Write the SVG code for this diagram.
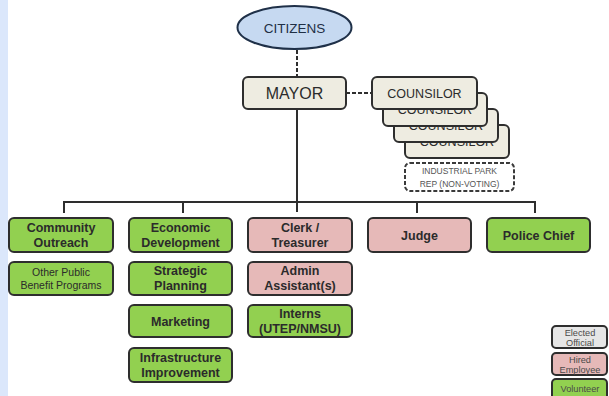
<svg xmlns="http://www.w3.org/2000/svg" width="609" height="396" viewBox="0 0 609 396">
<style>
.bx{stroke:#2e2e2e;stroke-width:2}
.el{fill:#eeece1}
.gr{fill:#92d050}
.pk{fill:#e6b9b8}
.t{font-family:"Liberation Sans",Arial,sans-serif;text-anchor:middle;fill:#2b2b2b}
.b{font-weight:bold;font-size:12.5px}
.lg{font-size:9.2px;fill:#4a4a4a}
.ln{fill:none;stroke:#2e2e2e;stroke-width:2}
.ds{fill:none;stroke:#2e2e2e;stroke-width:2;stroke-dasharray:4 2}
</style>
<rect x="0" y="0" width="609" height="396" fill="#ffffff"/>
<rect x="0" y="0" width="8" height="396" fill="#dbe7fb"/>
<g id="connectors">
<line class="ds" x1="297" y1="50" x2="297" y2="77"/>
<line class="ds" x1="346" y1="93" x2="372" y2="93"/>
<polyline class="ln" points="297,109 297,212"/>
<polyline class="ln" points="64,213 64,202 535,202 535,213"/>
<line class="ln" x1="183" y1="202" x2="183" y2="213"/>
<line class="ln" x1="417" y1="202" x2="417" y2="213"/>
</g>
<g id="citizens">
<ellipse cx="294.5" cy="27.5" rx="57" ry="21.5" fill="#c6d9f1" stroke="#1f3048" stroke-width="2"/>
<text class="t" x="294.5" y="32.5" font-size="13.5" style="fill:#1f2f45">CITIZENS</text>
</g>
<g id="mayor">
<rect class="bx el" x="243" y="77" width="103" height="32" rx="5"/>
<text class="t" x="294.5" y="99" font-size="16">MAYOR</text>
</g>
<g id="counselor4">
<rect class="bx el" x="405" y="125" width="104" height="33" rx="5"/>
<text class="t" x="457" y="146" font-size="12.5">COUNSILOR</text>
</g>
<g id="counselor3">
<rect class="bx el" x="394" y="109" width="104" height="33" rx="5"/>
<text class="t" x="446" y="130" font-size="12.5">COUNSILOR</text>
</g>
<g id="counselor2">
<rect class="bx el" x="383" y="93" width="104" height="33" rx="5"/>
<text class="t" x="435" y="114" font-size="12.5">COUNSILOR</text>
</g>
<g id="counselor1">
<rect class="bx el" x="372" y="77" width="105" height="32" rx="5"/>
<text class="t" x="424.5" y="97.5" font-size="12.5">COUNSILOR</text>
</g>
<g id="industrial">
<rect x="405" y="163" width="109" height="28" rx="5" fill="#ffffff" stroke="#3a3a3a" stroke-width="2" stroke-dasharray="4 2"/>
<text class="t" x="459.5" y="174" font-size="8.5" style="fill:#555">INDUSTRIAL PARK</text>
<text class="t" x="459.5" y="187" font-size="8.5" style="fill:#555">REP (NON-VOTING)</text>
</g>
<g id="community">
<rect class="bx gr" x="9" y="218" width="104" height="34" rx="5"/>
<text class="t b" x="61" y="231.5">Community</text>
<text class="t b" x="61" y="246.5">Outreach</text>
</g>
<g id="other">
<rect class="bx gr" x="9" y="262" width="104" height="33" rx="5"/>
<text class="t" x="61" y="275.5" font-size="10.5">Other Public</text>
<text class="t" x="61" y="288.5" font-size="10.5">Benefit Programs</text>
</g>
<g id="economic">
<rect class="bx gr" x="129" y="218" width="103" height="34" rx="5"/>
<text class="t b" x="180.5" y="231.5">Economic</text>
<text class="t b" x="180.5" y="246.5">Development</text>
</g>
<g id="strategic">
<rect class="bx gr" x="129" y="262" width="103" height="33" rx="5"/>
<text class="t b" x="180.5" y="275">Strategic</text>
<text class="t b" x="180.5" y="290">Planning</text>
</g>
<g id="marketing">
<rect class="bx gr" x="129" y="305" width="103" height="32" rx="5"/>
<text class="t b" x="180.5" y="325.5">Marketing</text>
</g>
<g id="infrastructure">
<rect class="bx gr" x="129" y="348" width="103" height="34" rx="5"/>
<text class="t b" x="180.5" y="361.5">Infrastructure</text>
<text class="t b" x="180.5" y="376.5">Improvement</text>
</g>
<g id="clerk">
<rect class="bx pk" x="248" y="218" width="104" height="34" rx="5"/>
<text class="t b" x="300" y="232">Clerk /</text>
<text class="t b" x="300" y="247">Treasurer</text>
</g>
<g id="admin">
<rect class="bx pk" x="248" y="262" width="104" height="33" rx="5"/>
<text class="t b" x="300" y="275">Admin</text>
<text class="t b" x="300" y="290">Assistant(s)</text>
</g>
<g id="interns">
<rect class="bx gr" x="248" y="305" width="104" height="32" rx="5"/>
<text class="t b" x="300" y="318">Interns</text>
<text class="t b" x="300" y="333">(UTEP/NMSU)</text>
</g>
<g id="judge">
<rect class="bx pk" x="368" y="218" width="103" height="34" rx="5"/>
<text class="t b" x="419.5" y="239.5">Judge</text>
</g>
<g id="police">
<rect class="bx gr" x="487" y="218" width="103" height="34" rx="5"/>
<text class="t b" x="538.5" y="239.5">Police Chief</text>
</g>
<g id="legend">
<rect class="bx" x="552" y="326" width="55" height="22" rx="4" fill="#e6e6e6" stroke-width="1.5"/>
<text class="t lg" x="580" y="335.5">Elected</text>
<text class="t lg" x="580" y="346">Official</text>
<rect class="bx pk" x="552" y="353" width="55" height="22" rx="4" stroke-width="1.5"/>
<text class="t lg" x="580" y="362.5">Hired</text>
<text class="t lg" x="580" y="373">Employee</text>
<rect class="bx gr" x="552" y="379" width="55" height="22" rx="4" stroke-width="1.5"/>
<text class="t lg" x="580" y="391.5">Volunteer</text>
</g>
</svg>
